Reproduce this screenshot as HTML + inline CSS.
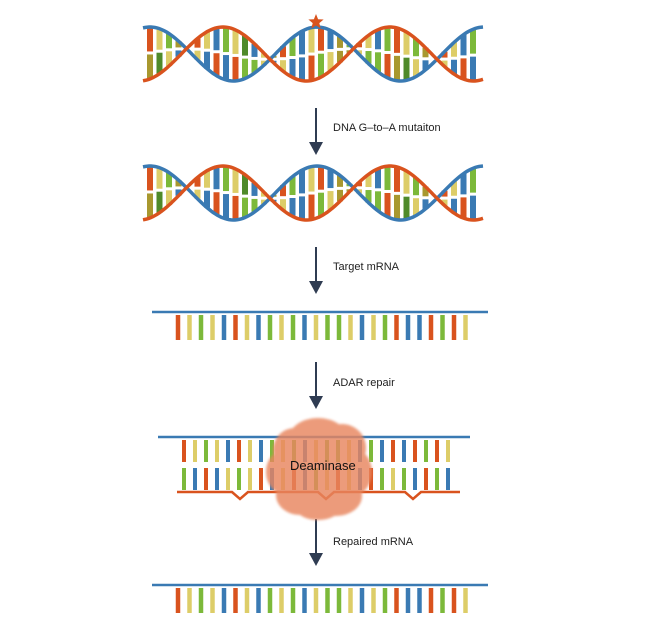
<!DOCTYPE html>
<html><head><meta charset="utf-8"><style>
body{margin:0;background:#fff;width:649px;height:631px;overflow:hidden}
svg{position:absolute;left:0;top:0}
text{font-family:"Liberation Sans",sans-serif;font-size:11px;fill:#222}
</style></head><body>
<svg id="s" width="649" height="631" xmlns="http://www.w3.org/2000/svg">
<defs><filter id="bl"><feGaussianBlur stdDeviation="1.2"/></filter></defs>
<g id="g"></g>
<g fill="#2f3c52" stroke="#2f3c52" stroke-width="2">
<line x1="316" y1="108" x2="316" y2="143"/><polygon points="309,142 323,142 316,155" stroke="none"/>
<line x1="316" y1="247" x2="316" y2="282"/><polygon points="309,281 323,281 316,294" stroke="none"/>
<line x1="316" y1="362" x2="316" y2="397"/><polygon points="309,396 323,396 316,409" stroke="none"/>
<line x1="316" y1="519" x2="316" y2="554"/><polygon points="309,553 323,553 316,566" stroke="none"/>
</g>
<text x="333" y="131">DNA G–to–A mutaiton</text>
<text x="333" y="270">Target mRNA</text>
<text x="333" y="386">ADAR repair</text>
<text x="333" y="545">Repaired mRNA</text>
<g id="blob" opacity="0.82" filter="url(#bl)"></g>
<text x="290" y="470" style="font-size:13px;fill:#111">Deaminase</text>
</svg>
<script>
(function(){
const NS="http://www.w3.org/2000/svg",G=document.getElementById('g');
function el(t,a,p){const e=document.createElementNS(NS,t);for(const k in a)e.setAttribute(k,a[k]);(p||G).appendChild(e);return e;}
const C={O:"#d9531e",Y:"#ddcd68",G:"#7cb93a",B:"#3a7ab3",D:"#a8982f",K:"#4f8a2a"};
const seq="OYGYBOYBGYGBYGGYBYGOBBOGOY";
function helix(cy,star){
 const A=27,P=167;
 const o=x=>cy-A*Math.cos(2*Math.PI*(x-223)/P), b=x=>cy-A*Math.cos(2*Math.PI*(x-317)/P);
 const cols="OYGDBOYBGYKBYDOGBYOBDGOYBG";
 let i=0;
 for(let x=150;x<=478;x+=9.5,i++){
  let y1=Math.min(o(x),b(x)),y2=Math.max(o(x),b(x));
  if(y2-y1<6)continue;
  const m=(y1+y2)/2;
  el('line',{x1:x,y1:y1,x2:x,y2:m-1.5,stroke:C[cols[i%26]],'stroke-width':6});
  el('line',{x1:x,y1:m+1.5,x2:x,y2:y2,stroke:C[cols[(i*7+3)%26]],'stroke-width':6});
 }
 let po="",pb="";
 for(let x=143;x<=484;x+=2){po+=(po?"L":"M")+x+","+o(x).toFixed(1);pb+=(pb?"L":"M")+x+","+b(x).toFixed(1);}
 el('path',{d:pb,stroke:"#3a7ab3",'stroke-width':3.5,fill:"none"});
 el('path',{d:po,stroke:"#d9531e",'stroke-width':3.5,fill:"none"});
 if(star){let s="";for(let k=0;k<10;k++){const r=k%2?3.5:8,a=-Math.PI/2+k*Math.PI/5;s+=(316+r*Math.cos(a)).toFixed(1)+","+(22+r*Math.sin(a)).toFixed(1)+" ";}
  el('polygon',{points:s,fill:"#d9531e"});}
}
helix(54,true);helix(193,false);
function mrna(y,x0,x1){
 el('line',{x1:x0,y1:y,x2:x1,y2:y,stroke:"#3a7ab3",'stroke-width':2.5});
 for(let i=0;i<26;i++){const x=178+i*11.5;el('line',{x1:x,y1:y+3,x2:x,y2:y+28,stroke:C[seq[i]],'stroke-width':4.5});}
}
mrna(312,152,488);mrna(585,152,488);
el('line',{x1:158,y1:437,x2:470,y2:437,stroke:"#3a7ab3",'stroke-width':2.5});
const tp="OYGYBOYBGYGBYGGYBGBOBOGOY",bt="GBOBYGYOBYOBGYOYBOGYGBOGB";
for(let i=0;i<25;i++){const x=184+i*11;
 el('line',{x1:x,y1:440,x2:x,y2:462,stroke:C[tp[i]],'stroke-width':4});
 el('line',{x1:x,y1:468,x2:x,y2:490,stroke:C[bt[i]],'stroke-width':4});}
el('path',{d:"M177,492 L232,492 L240,499 L248,492 L318,492 L326,499 L334,492 L405,492 L413,499 L421,492 L460,492",stroke:"#d9531e",'stroke-width':2.5,fill:"none"});
const bg=document.getElementById('blob');
[[318,440,30,22],[295,450,22,22],[342,448,24,24],[284,472,18,22],[352,472,20,24],[318,468,40,38],[300,495,24,20],[336,496,26,20],[318,508,22,12]].forEach(c=>el('ellipse',{cx:c[0],cy:c[1],rx:c[2],ry:c[3],fill:"#e8865e"},bg));
})();
</script>
</body></html>
